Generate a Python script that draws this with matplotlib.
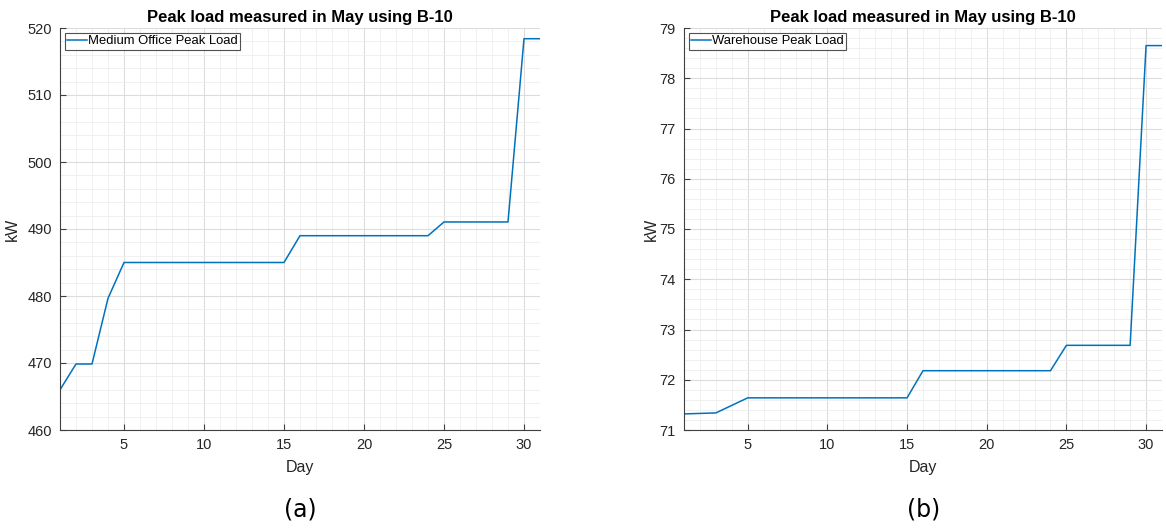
import matplotlib
matplotlib.use("Agg")
import matplotlib.pyplot as plt
from matplotlib.ticker import MultipleLocator

days = list(range(1, 32))
office_load = [466.0, 469.85, 469.85, 479.65] + [485.0] * 11 + [489.0] * 9 + [491.05] * 5 + [518.4, 518.4]
warehouse_load = [71.32, 71.33, 71.34, 71.49] + [71.64] * 11 + [72.18] * 9 + [72.685] * 5 + [78.65, 78.65]

title = "Peak load measured in May using B-10"
labels = ["Medium Office Peak Load", "Warehouse Peak Load"]
panel_tags = ["(a)", "(b)"]
x_ticks = [5, 10, 15, 20, 25, 30]

plt.rcParams['font.family'] = ['Liberation Sans', 'DejaVu Sans']
TXT = '#262626'
LINE = '#0072BD'

fig = plt.figure(figsize=(11.66, 5.31), dpi=100)
W, H = 1166, 531

def make_axes(x0, x1, y0=28, y1=430):
    return fig.add_axes([x0 / W, (H - y1) / H, (x1 - x0) / W, (y1 - y0) / H])

axA = make_axes(60, 540)
axB = make_axes(684, 1162)

configs = [
    (axA, office_load, labels[0], (460, 520), 10, 2, -0.083, 300, panel_tags[0]),
    (axB, warehouse_load, labels[1], (71, 79), 1, 0.2, -0.053, 924, panel_tags[1]),
]

for ax, data, lab, ylim, ymaj, ymin, ylx, tagx, tag in configs:
    ax.plot(days, data, color=LINE, lw=1.1, label=lab)
    ax.set_xlim(1, 31)
    ax.set_ylim(*ylim)
    ax.set_xticks(x_ticks)
    ax.yaxis.set_major_locator(MultipleLocator(ymaj))
    ax.xaxis.set_minor_locator(MultipleLocator(1))
    ax.yaxis.set_minor_locator(MultipleLocator(ymin))
    ax.grid(which='major', color='#dcdcdc', lw=0.8)
    ax.grid(which='minor', color='#eeeeee', lw=0.6)
    ax.set_axisbelow(True)
    for s in ['top', 'right']:
        ax.spines[s].set_visible(False)
    for s in ['left', 'bottom']:
        ax.spines[s].set_color('#404040')
        ax.spines[s].set_linewidth(0.8)
    ax.tick_params(which='major', direction='in', length=4, width=0.8, colors='#404040',
                   labelcolor=TXT, labelsize=10.5, pad=6)
    ax.tick_params(which='minor', direction='in', length=0)
    ax.set_title(title, fontsize=12, fontweight='bold', color='black', pad=4)
    ax.set_xlabel("Day", fontsize=11.5, color=TXT)
    ax.set_ylabel("kW", fontsize=11.5, color=TXT)
    ax.xaxis.set_label_coords(0.5, -0.075)
    ax.yaxis.set_label_coords(ylx, 0.5)
    leg = ax.legend(loc='upper left', fontsize=9.4, frameon=True, fancybox=False,
                    handlelength=1.5, handletextpad=0.1, borderpad=0.2,
                    borderaxespad=0.35)
    leg.get_frame().set_edgecolor('#262626')
    leg.get_frame().set_linewidth(0.8)
    fig.text(tagx / W, 1 - 510 / H, tag, ha='center', va='center', fontsize=17,
             family=['DejaVu Sans'], color='black')

fig.savefig("out.png", dpi=100)
